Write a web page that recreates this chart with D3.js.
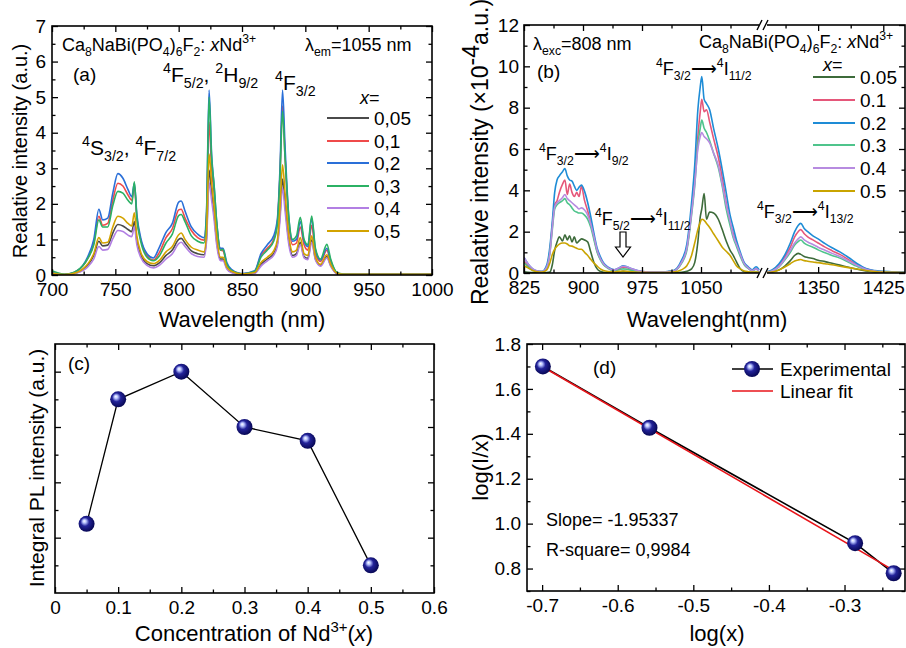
<!DOCTYPE html>
<html><head><meta charset="utf-8">
<script src="https://cdn.jsdelivr.net/npm/d3@7"></script>
<style>body{margin:0;background:#fff}svg{display:block}</style>
</head><body><svg id="c" width="906" height="648"></svg>
<script>
// ---------- DATA ----------
const seriesLabelsA = ["0,05","0,1","0,2","0,3","0,4","0,5"];
const seriesLabelsB = ["0.05","0.1","0.2","0.3","0.4","0.5"];
const waveA = [700,710,720,728,733,737,740,744,748,752,756,760,763,765,767,770,775,780,785,790,795,800,802,805,810,815,820,822,824,826,828,830,833,835,838,842,850,860,865,870,875,878,880,882,884,887,890,893,896,899,902,905,908,912,917,920,925,930,950,1000];
const a005 = [0.04,0.01,0.07,0.27,0.55,0.95,0.82,0.84,1.18,1.42,1.38,1.28,1.22,1.5,0.95,0.58,0.32,0.26,0.35,0.55,0.7,1.0,1.03,0.9,0.68,0.6,0.57,1.05,2.95,2.3,1.7,0.95,0.45,0.45,0.2,0.08,0.02,0.06,0.3,0.45,0.6,0.9,1.7,2.7,2.0,0.95,0.55,0.6,0.92,0.52,0.47,0.98,0.45,0.27,0.52,0.27,0.04,0.02,0.02,0.02];
const a01  = [0.06,0.01,0.12,0.45,0.9,1.65,1.4,1.45,2.1,2.58,2.5,2.25,2.1,2.5,1.6,1.0,0.55,0.42,0.65,1.05,1.3,1.83,1.85,1.6,1.25,1.05,0.98,1.6,4.3,3.0,2.3,1.4,0.7,0.68,0.3,0.12,0.03,0.1,0.55,0.75,1.0,1.5,2.8,4.75,3.3,1.45,0.85,0.9,1.35,0.85,0.7,1.4,0.6,0.38,0.7,0.35,0.05,0.02,0.02,0.02];
const a02  = [0.06,0.01,0.12,0.5,1.0,1.85,1.55,1.6,2.3,2.85,2.72,2.4,2.2,2.58,1.7,1.05,0.6,0.48,0.8,1.2,1.45,2.05,2.08,1.8,1.35,1.15,1.05,1.8,5.2,3.4,2.5,1.5,0.75,0.75,0.35,0.15,0.04,0.12,0.6,0.85,1.1,1.6,3.0,5.2,3.6,1.6,0.95,1.0,1.5,0.95,0.8,1.6,0.7,0.42,0.75,0.4,0.06,0.02,0.02,0.02];
const a03  = [0.12,0.02,0.13,0.45,0.85,1.55,1.35,1.35,1.95,2.35,2.3,2.1,2.0,2.62,1.6,0.95,0.5,0.4,0.55,0.9,1.15,1.67,1.7,1.5,1.1,0.95,0.9,1.7,5.0,3.3,2.5,1.5,0.7,0.72,0.3,0.12,0.03,0.1,0.5,0.7,0.95,1.45,2.8,4.6,3.3,1.6,1.0,1.1,1.62,1.0,0.85,1.66,0.75,0.45,0.86,0.45,0.07,0.03,0.02,0.02];
const a04  = [0.04,0.0,0.06,0.22,0.45,0.8,0.7,0.72,1.02,1.25,1.22,1.12,1.08,1.35,0.85,0.5,0.27,0.2,0.28,0.45,0.6,0.88,0.92,0.8,0.6,0.52,0.5,0.95,2.6,2.1,1.55,0.85,0.4,0.4,0.17,0.06,0.01,0.04,0.25,0.4,0.55,0.82,1.55,2.45,1.8,0.85,0.5,0.55,0.85,0.48,0.43,0.92,0.42,0.25,0.48,0.25,0.03,0.01,0.01,0.01];
const a05  = [0.05,0.01,0.08,0.3,0.6,1.05,0.9,0.92,1.35,1.65,1.6,1.45,1.38,1.75,1.1,0.65,0.38,0.32,0.42,0.65,0.8,1.13,1.18,1.0,0.78,0.7,0.65,1.2,3.4,2.6,1.9,1.1,0.5,0.5,0.22,0.1,0.03,0.07,0.35,0.5,0.68,1.0,1.9,3.1,2.3,1.1,0.65,0.7,1.05,0.6,0.55,1.1,0.5,0.3,0.57,0.3,0.05,0.02,0.02,0.02];

const waveB = [825,830,836,842,848,854,858,861,864,867,870,874,877,880,883,886,889,892,895,898,902,906,910,914,918,922,926,932,940,946,951,956,962,975,995,1015,1025,1032,1038,1042,1046,1049,1051,1054,1057,1061,1066,1072,1077,1082,1087,1091,1095,1100,1105,1110,1115,1120,1124,1290,1297,1305,1312,1318,1323,1327,1330,1334,1338,1344,1350,1358,1366,1375,1385,1395,1405,1415,1425,1438,1450];
const b005 = [0.06,0.04,0.02,0.01,0.01,0.02,0.05,0.4,1.1,1.5, 1.75,1.55,1.85,1.6,1.8,1.5,1.75,1.45,1.55,1.65, 1.6,1.5,1.0,0.5,0.2,0.08,0.04,0.02,0.02,0.05, 0.08,0.06,0.04,0.02,0.01,0.01,0.03,0.08,0.2,0.5, 1.5,2.7,3.1,3.85,2.6,2.95,2.9,2.6,2.1,1.55, 1.1,0.85,0.55,0.2,0.06,0.03,0.02,0.03,0.02, 0.01,0.05,0.15,0.35,0.6,0.85,0.95,0.9,0.8,0.75,0.7, 0.62,0.55,0.47,0.38,0.28,0.18,0.1,0.05,0.03,0.02,0.01];
const b01  = [0.55,0.35,0.15,0.08,0.06,0.3,1.1,2.3,3.3,3.5, 3.9,4.3,4.5,3.8,4.3,3.9,3.7,3.9,3.7,4.2, 3.5,3.0,2.4,1.7,1.05,0.7,0.45,0.25,0.14,0.2, 0.28,0.25,0.17,0.06,0.03,0.1,0.5,1.2,3.0,4.5, 6.6,7.8,8.4,7.8,7.9,7.3,6.5,5.6,4.6,3.4, 2.5,1.9,1.4,0.9,0.45,0.25,0.12,0.2,0.1, 0.04,0.12,0.38,0.8,1.25,1.75,2.0,2.1,1.9,1.75,1.6, 1.45,1.25,1.08,0.9,0.65,0.4,0.2,0.1,0.06,0.04,0.03];
const b02  = [0.75,0.45,0.2,0.1,0.08,0.4,1.3,2.5,3.9,4.5, 4.7,4.9,5.05,4.7,4.5,4.45,4.2,4.0,4.15,4.25, 3.95,3.4,2.7,1.9,1.2,0.8,0.5,0.28,0.16,0.25, 0.35,0.3,0.2,0.07,0.04,0.12,0.6,1.4,3.4,5.2, 7.9,9.0,9.5,8.4,8.2,7.9,7.0,6.0,5.0,3.9, 2.8,2.2,1.6,1.0,0.5,0.3,0.15,0.3,0.15, 0.05,0.15,0.45,0.9,1.45,2.0,2.3,2.4,2.15,2.0,1.8, 1.65,1.42,1.22,1.02,0.75,0.45,0.22,0.12,0.08,0.05,0.04];
const b03  = [0.5,0.3,0.13,0.07,0.05,0.25,1.0,2.1,3.1,3.3, 3.4,3.5,3.6,3.4,3.3,3.15,3.0,2.95,2.9,2.9, 2.8,2.6,2.2,1.6,1.0,0.65,0.4,0.22,0.12,0.16, 0.2,0.18,0.13,0.05,0.03,0.09,0.45,1.1,2.8,4.2, 6.2,7.0,7.4,7.0,6.8,6.4,5.8,5.1,4.2,3.1, 2.3,1.7,1.3,0.8,0.4,0.22,0.1,0.18,0.08, 0.04,0.1,0.3,0.65,1.0,1.35,1.52,1.6,1.45,1.35,1.25, 1.12,0.98,0.85,0.72,0.52,0.32,0.16,0.08,0.05,0.03,0.02];
const b04  = [0.75,0.45,0.2,0.1,0.07,0.3,1.0,2.2,3.2,3.4, 3.5,3.65,3.8,3.6,3.5,3.4,3.3,3.2,3.1,3.15, 3.05,2.8,2.35,1.75,1.1,0.7,0.45,0.25,0.15,0.25, 0.33,0.3,0.2,0.07,0.04,0.1,0.5,1.2,2.9,4.3, 6.0,6.6,6.8,6.6,6.5,6.3,5.8,5.2,4.3,3.3, 2.5,1.8,1.4,0.9,0.45,0.25,0.12,0.2,0.1, 0.04,0.1,0.32,0.7,1.1,1.45,1.65,1.75,1.6,1.5,1.38, 1.25,1.1,0.95,0.8,0.58,0.36,0.18,0.09,0.05,0.03,0.02];
const b05  = [0.35,0.25,0.12,0.06,0.05,0.15,0.5,0.9,1.15,1.3, 1.4,1.45,1.45,1.4,1.32,1.3,1.25,1.2,1.15,1.15, 1.0,0.85,0.65,0.48,0.33,0.2,0.12,0.07,0.05,0.08, 0.1,0.08,0.06,0.03,0.02,0.05,0.15,0.35,0.85,1.45, 2.1,2.45,2.6,2.55,2.4,2.2,1.9,1.55,1.25,1.05, 0.85,0.6,0.35,0.2,0.1,0.06,0.04,0.05,0.03, 0.02,0.05,0.15,0.3,0.45,0.58,0.63,0.65,0.6,0.57,0.53, 0.5,0.45,0.4,0.33,0.26,0.19,0.12,0.07,0.04,0.03,0.02];

const concX = [0.05,0.1,0.2,0.3,0.4,0.5];
const integralPL = [2.5,7.0,8.0,6.0,5.5,1.0];

const logX = [-0.699,-0.558,-0.286,-0.235];
const logIx = [1.70,1.427,0.913,0.779];
const fitX = [-0.70,-0.235];
const fitY = [1.70,0.792];

const colorsA = ["#4a4a4a","#ef4a4a","#2a6fd8","#2bb164","#b27fe3","#d3a300"];
const colorsB = ["#3d6b3a","#e5577a","#1e8cd6","#4fc48c","#b78be0","#c9a400"];

// ---------- HELPERS ----------
const FONT = "Liberation Sans, Arial, Helvetica, sans-serif";
const TICKFS = 19;
const svg = d3.select("#c");

function rich(parent, str, x, y, size, anchor) {
  const t = parent.append("text").attr("x", x).attr("y", y)
    .attr("font-size", size).attr("font-family", FONT).attr("fill", "#000")
    .attr("text-anchor", anchor || "start");
  const re = /\^\{([^}]*)\}|_\{([^}]*)\}|\*([^*]*)\*|([^\^_*]+)/g;
  let m, cur = 0;
  while ((m = re.exec(str))) {
    if (m[1] !== undefined) {
      const off = -0.42 * size;
      t.append("tspan").attr("dy", off - cur).attr("font-size", size * 0.68).text(m[1]);
      cur = off;
    } else if (m[2] !== undefined) {
      const off = 0.28 * size;
      t.append("tspan").attr("dy", off - cur).attr("font-size", size * 0.68).text(m[2]);
      cur = off;
    } else if (m[3] !== undefined) {
      t.append("tspan").attr("dy", -cur).attr("font-style", "italic").text(m[3]);
      cur = 0;
    } else {
      t.append("tspan").attr("dy", -cur).text(m[4]);
      cur = 0;
    }
  }
  return t;
}

function frameAxes(o) {
  const g = svg.append("g");
  const mk = (fn, scale, vals, size, fmt, tr, pad) => {
    const a = fn(scale).tickValues(vals).tickSize(-size).tickPadding(pad || 8)
      .tickFormat(fmt || (() => ""));
    const gg = g.append("g").attr("transform", tr).call(a);
    gg.select(".domain").remove();
    gg.selectAll("line").attr("stroke", "#000").attr("stroke-width", 1.3);
    gg.selectAll("text").attr("font-size", TICKFS).attr("fill", "#000").attr("font-family", FONT);
    return gg;
  };
  const [x0, x1] = [o.x0, o.x1], [y0, y1] = [o.y0, o.y1];
  mk(d3.axisBottom, o.x, o.xMaj, 6, o.xFmt, `translate(0,${y1})`, 8);
  mk(d3.axisBottom, o.x, o.xMin, 3.5, null, `translate(0,${y1})`);
  mk(d3.axisTop, o.x, o.xMaj, 6, null, `translate(0,${y0})`);
  mk(d3.axisTop, o.x, o.xMin, 3.5, null, `translate(0,${y0})`);
  mk(d3.axisLeft, o.y, o.yMaj, 6, o.yFmt, `translate(${x0},0)`, o.yPad || 6);
  mk(d3.axisLeft, o.y, o.yMin, 3.5, null, `translate(${x0},0)`);
  mk(d3.axisRight, o.y, o.yMaj, 6, null, `translate(${x1},0)`);
  mk(d3.axisRight, o.y, o.yMin, 3.5, null, `translate(${x1},0)`);
  g.append("rect").attr("x", x0).attr("y", y0).attr("width", x1 - x0).attr("height", y1 - y0)
    .attr("fill", "none").attr("stroke", "#000").attr("stroke-width", 1.6);
  return g;
}

function clip(id, x0, y0, x1, y1) {
  svg.append("clipPath").attr("id", id).append("rect")
    .attr("x", x0).attr("y", y0).attr("width", x1 - x0).attr("height", y1 - y0);
}
const hyph = d => d.toFixed(1).replace("\u2212", "-");

// sphere gradient
const defs = svg.append("defs");
const rg = defs.append("radialGradient").attr("id", "sph").attr("cx", "45%").attr("cy", "45%").attr("r", "60%").attr("fx", "35%").attr("fy", "32%");
rg.append("stop").attr("offset", "0%").attr("stop-color", "#ffffff");
rg.append("stop").attr("offset", "18%").attr("stop-color", "#b9c4ff");
rg.append("stop").attr("offset", "45%").attr("stop-color", "#23239a");
rg.append("stop").attr("offset", "100%").attr("stop-color", "#03034a");

// ---------- PANEL A ----------
const ax = d3.scaleLinear().domain([700, 1000]).range([52, 432]);
const ay = d3.scaleLinear().domain([0, 7]).range([275, 26]);
clip("clipA", 52, 26, 432, 275);
const seriesA = [a005, a01, a02, a03, a04, a05];
const lineA = d3.line().x(d => ax(d[0])).y(d => ay(d[1])).curve(d3.curveMonotoneX);
const gA = svg.append("g").attr("clip-path", "url(#clipA)");
seriesA.forEach((s, i) => {
  gA.append("path").attr("d", lineA(waveA.map((w, j) => [w, s[j]])))
    .attr("fill", "none").attr("stroke", colorsA[i]).attr("stroke-width", 1.6);
});
frameAxes({x: ax, y: ay, x0: 52, x1: 432, y0: 26, y1: 275,
  xMaj: [700,750,800,850,900,950,1000], xMin: [725,775,825,875,925,975],
  yMaj: [0,1,2,3,4,5,6,7], yMin: [0.5,1.5,2.5,3.5,4.5,5.5,6.5],
  xFmt: d3.format("d"), yFmt: d3.format("d")});
svg.append("text").attr("transform", "translate(27,151) rotate(-90)").attr("text-anchor", "middle")
  .attr("font-size", 20).attr("font-family", FONT).text("Realative intensity (a.u.)");
svg.append("text").attr("x", 242).attr("y", 327).attr("text-anchor", "middle")
  .attr("font-size", 22).attr("font-family", FONT).text("Wavelength (nm)");
rich(svg, "Ca_{8}NaBi(PO_{4})_{6}F_{2}: *x*Nd^{3+}", 62, 51, 18);
rich(svg, "λ_{em}=1055 nm", 305, 51, 18);
rich(svg, "(a)", 73, 81, 19);
rich(svg, "^{4}F_{5/2}, ^{2}H_{9/2}", 163, 82, 21);
rich(svg, "^{4}F_{3/2}", 275, 90, 21);
rich(svg, "^{4}S_{3/2}, ^{4}F_{7/2}", 82, 155, 21);
rich(svg, "*x*=", 360, 104, 18);
const legAy = [118, 141, 163, 186, 208, 231];
seriesLabelsA.forEach((lab, i) => {
  svg.append("line").attr("x1", 327).attr("x2", 369).attr("y1", legAy[i]).attr("y2", legAy[i])
    .attr("stroke", colorsA[i]).attr("stroke-width", 1.8);
  rich(svg, lab, 374, legAy[i] + 7, 19);
});

// ---------- PANEL B ----------
const bx = d3.scaleLinear().domain([825, 1125, 1290, 1450]).range([524, 760, 766, 905]);
const by = d3.scaleLinear().domain([0, 12]).range([273, 25]);
clip("clipB", 524, 25, 905, 273);
const seriesB = [b005, b01, b02, b03, b04, b05];
const lineB = d3.line().x(d => bx(d[0])).y(d => by(d[1])).curve(d3.curveMonotoneX);
const gB = svg.append("g").attr("clip-path", "url(#clipB)");
seriesB.forEach((s, i) => {
  const pts = waveB.map((w, j) => [w, s[j]]);
  [pts.filter(p => p[0] <= 1125), pts.filter(p => p[0] >= 1290)].forEach(seg => {
    gB.append("path").attr("d", lineB(seg)).attr("fill", "none")
      .attr("stroke", colorsB[i]).attr("stroke-width", 1.6);
  });
});
frameAxes({x: bx, y: by, x0: 524, x1: 905, y0: 25, y1: 273,
  xMaj: [825,900,975,1050,1350,1425], xMin: [862.5,937.5,1012.5,1087.5,1312.5,1387.5],
  yMaj: [0,2,4,6,8,10,12], yMin: [1,3,5,7,9,11],
  xFmt: d3.format("d"), yFmt: d3.format("d"), yPad: 5});
// axis break marks
[25, 273].forEach(yy => {
  svg.append("rect").attr("x", 759).attr("y", yy - 3).attr("width", 8).attr("height", 6).attr("fill", "#fff");
  [757, 763].forEach(xx => {
    svg.append("line").attr("x1", xx).attr("y1", yy + 5).attr("x2", xx + 5).attr("y2", yy - 5)
      .attr("stroke", "#000").attr("stroke-width", 1.4);
  });
});
const yTitleB = svg.append("text").attr("transform", "translate(488,152) rotate(-90)").attr("text-anchor", "middle")
  .attr("font-size", 23).attr("font-family", FONT);
yTitleB.append("tspan").text("Realative intensity (×10");
yTitleB.append("tspan").attr("dy", -9).text("-4");
yTitleB.append("tspan").attr("dy", 9).text("a.u.)");
svg.append("text").attr("x", 707).attr("y", 327).attr("text-anchor", "middle")
  .attr("font-size", 22).attr("font-family", FONT).text("Wavelenght(nm)");
rich(svg, "λ_{exc}=808 nm", 533, 50, 18);
rich(svg, "(b)", 537, 78, 19);
rich(svg, "Ca_{8}NaBi(PO_{4})_{6}F_{2}: *x*Nd^{3+}", 699, 48, 18);
rich(svg, "^{4}F_{3/2}⟶^{4}I_{11/2}", 656, 75, 18);
rich(svg, "^{4}F_{3/2}⟶^{4}I_{9/2}", 539, 160, 18);
rich(svg, "^{4}F_{5/2}⟶^{4}I_{11/2}", 595, 225, 18);
rich(svg, "^{4}F_{3/2}⟶^{4}I_{13/2}", 757, 218, 18);
rich(svg, "*x*=", 823, 71, 18);
const legBy = [77, 100, 123, 145, 168, 191];
seriesLabelsB.forEach((lab, i) => {
  svg.append("line").attr("x1", 813).attr("x2", 855).attr("y1", legBy[i]).attr("y2", legBy[i])
    .attr("stroke", colorsB[i]).attr("stroke-width", 1.8);
  rich(svg, lab, 860, legBy[i] + 7, 19);
});
// hollow down arrow
svg.append("path")
  .attr("d", "M620,232 L626,232 L626,247 L630.5,247 L623,257 L615.5,247 L620,247 Z")
  .attr("fill", "#fff").attr("stroke", "#000").attr("stroke-width", 1.2);

// ---------- PANEL C ----------
const cx = d3.scaleLinear().domain([0, 0.6]).range([55, 434]);
const cy = d3.scaleLinear().domain([0, 9]).range([593, 344]);
frameAxes({x: cx, y: cy, x0: 55, x1: 434, y0: 344, y1: 593,
  xMaj: [0,0.1,0.2,0.3,0.4,0.5,0.6], xMin: [0.05,0.15,0.25,0.35,0.45,0.55],
  yMaj: [2,4,6,8], yMin: [1,3,5,7],
  xFmt: d => d === 0 ? "0" : d.toFixed(1), yFmt: () => ""});
svg.append("path").attr("d", d3.line().x((d, i) => cx(concX[i])).y(d => cy(d))(integralPL))
  .attr("fill", "none").attr("stroke", "#000").attr("stroke-width", 1.3);
svg.append("g").selectAll("circle").data(integralPL).join("circle")
  .attr("cx", (d, i) => cx(concX[i])).attr("cy", d => cy(d)).attr("r", 8).attr("fill", "url(#sph)");
svg.append("text").attr("transform", "translate(44,468) rotate(-90)").attr("text-anchor", "middle")
  .attr("font-size", 21).attr("font-family", FONT).text("Integral PL intensity (a.u.)");
rich(svg, "Concentration of Nd^{3+}(*x*)", 254, 641, 22, "middle");
rich(svg, "(c)", 68, 370, 19);

// ---------- PANEL D ----------
const dx = d3.scaleLinear().domain([-0.72, -0.22]).range([527, 905]);
const dy = d3.scaleLinear().domain([0.7, 1.8]).range([591, 344]);
frameAxes({x: dx, y: dy, x0: 527, x1: 905, y0: 344, y1: 591,
  xMaj: [-0.7,-0.6,-0.5,-0.4,-0.3], xMin: [-0.65,-0.55,-0.45,-0.35,-0.25],
  yMaj: [0.8,1.0,1.2,1.4,1.6,1.8], yMin: [0.7,0.9,1.1,1.3,1.5,1.7],
  xFmt: hyph, yFmt: hyph});
svg.append("path").attr("d", d3.line().x((d, i) => dx(logX[i])).y(d => dy(d))(logIx))
  .attr("fill", "none").attr("stroke", "#000").attr("stroke-width", 1.6);
svg.append("path").attr("d", d3.line().x((d, i) => dx(fitX[i])).y(d => dy(d))(fitY))
  .attr("fill", "none").attr("stroke", "#e8141a").attr("stroke-width", 1.6);
svg.append("g").selectAll("circle").data(logIx).join("circle")
  .attr("cx", (d, i) => dx(logX[i])).attr("cy", d => dy(d)).attr("r", 8).attr("fill", "url(#sph)");
svg.append("text").attr("transform", "translate(488,467) rotate(-90)").attr("text-anchor", "middle")
  .attr("font-size", 22).attr("font-family", FONT).text("log(I/x)");
svg.append("text").attr("x", 717).attr("y", 641).attr("text-anchor", "middle")
  .attr("font-size", 22).attr("font-family", FONT).text("log(x)");
rich(svg, "(d)", 593, 374, 19);
svg.append("line").attr("x1", 732).attr("x2", 773).attr("y1", 369).attr("y2", 369).attr("stroke", "#000").attr("stroke-width", 1.6);
svg.append("circle").attr("cx", 752).attr("cy", 369).attr("r", 8).attr("fill", "url(#sph)");
rich(svg, "Experimental", 780, 376, 19);
svg.append("line").attr("x1", 732).attr("x2", 773).attr("y1", 391).attr("y2", 391).attr("stroke", "#e8141a").attr("stroke-width", 1.6);
rich(svg, "Linear fit", 780, 398, 19);
rich(svg, "Slope= -1.95337", 546, 526, 18);
rich(svg, "R-square= 0,9984", 546, 556, 18);
</script></body></html>
